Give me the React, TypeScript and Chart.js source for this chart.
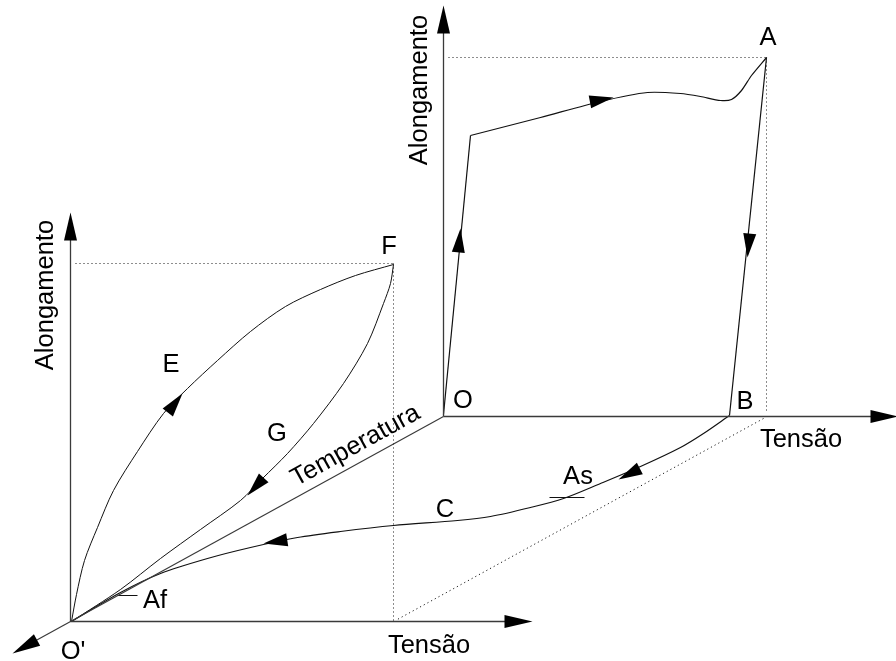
import React, { useEffect, useRef } from "react";
import { Chart, registerables } from "chart.js";

Chart.register(...registerables);

type P = { x: number; y: number };
const pt = (x: number, y: number): P => ({ x, y });

// ---- diagram space (x: 0..896 to the right, y: 0..661 downwards) ----
const X_RANGE = [-0.5, 895.5];
const Y_RANGE = [-0.5, 660.5];

// axes
const rightElongAxis: P[] = [pt(443, 416), pt(443, 12)];
const rightStressAxis: P[] = [pt(443, 416), pt(880, 416)];
const temperatureAxis: P[] = [pt(443, 416), pt(30, 643)];
const leftElongAxis: P[] = [pt(70, 621), pt(70, 225)];
const leftStressAxis: P[] = [pt(70, 621), pt(515, 621)];

// dotted projection lines
const dotTopA: P[] = [pt(448, 57), pt(766, 57)];
const dotDownA: P[] = [pt(766, 57), pt(766, 413)];
const dotDiagonal: P[] = [pt(763, 418), pt(395, 620)];
const dotTopF: P[] = [pt(75, 263), pt(393, 263)];
const dotDownF: P[] = [pt(393, 263), pt(393, 620)];

// loading path O -> A
const pathOrise: P[] = [pt(443, 414), pt(470, 135)];
const pathTopA: P[] = [
  pt(470, 135), pt(540, 117), pt(600, 101), pt(647, 92), pt(680, 93),
  pt(700, 96), pt(720, 100), pt(731, 99), pt(741, 90), pt(751, 75), pt(766, 57),
];
// unloading A -> B
const pathAB: P[] = [pt(766, 57), pt(729, 415)];
// heating B -> As -> C -> Af -> O'
const pathBC: P[] = [
  pt(729, 415), pt(703, 433), pt(680, 447), pt(640, 466), pt(600, 483),
  pt(563, 498), pt(530, 507), pt(490, 516), pt(457, 520), pt(393, 525),
  pt(340, 531), pt(297, 537), pt(250, 547), pt(207, 558), pt(160, 573),
  pt(120, 592), pt(71, 621),
];
// E: O' -> F
const pathE: P[] = [
  pt(71, 621), pt(76, 594), pt(84, 560), pt(97, 527), pt(113, 490),
  pt(137, 451), pt(163, 413), pt(187, 388), pt(217, 360), pt(250, 331),
  pt(285, 306), pt(320, 289), pt(355, 275), pt(393, 264),
];
// G: F -> O'
const pathG: P[] = [
  pt(393, 264), pt(390, 283), pt(383, 303), pt(367, 343), pt(343, 383),
  pt(313, 423), pt(287, 453), pt(262, 478), pt(240, 500), pt(200, 529),
  pt(160, 558), pt(120, 589), pt(71, 621),
];
// transformation start / finish markers
const tickAs: P[] = [pt(549, 497), pt(584, 497)];
const tickAf: P[] = [pt(117, 595), pt(137, 595)];

// arrow heads: tip and a point behind it on the same line
const axisArrowTips: P[] = [pt(443, 5), pt(898, 416), pt(12, 653), pt(70, 212), pt(532, 621)];
const axisArrowTails: P[] = [pt(443, 416), pt(443, 416), pt(443, 416), pt(70, 621), pt(70, 621)];
const curveArrowTips: P[] = [pt(460, 228), pt(613, 97), pt(747, 257), pt(618, 479), pt(263, 543), pt(182, 393), pt(247, 495)];
const curveArrowTails: P[] = [pt(443, 414), pt(560, 107), pt(766, 57), pt(680, 447), pt(320, 534), pt(137, 451), pt(313, 423)];

// labels
const labelTexts = ["A", "O", "B", "Tensão", "F", "E", "G", "C", "As", "Af", "O'", "Tensão", "Alongamento", "Alongamento", "Temperatura"];
const labelX = [767, 462, 744, 800, 388, 170, 276, 444, 577, 142, 72, 428, 426, 52, 358];
const labelY = [44, 407, 409, 447, 253, 372, 440, 516, 483, 607, 658, 652, 89, 294, 451];
const labelAngle = [0, 0, 0, 0, 0, 0, 0, 0, 0, 0, 0, 0, -90, -90, -28.9];
const labelAlign = ["center", "center", "center", "center", "center", "center", "center", "center", "center", "left", "center", "center", "center", "center", "center"];

const FONT = "25.5px 'Liberation Sans', Arial, sans-serif";
const AXIS_COLOR = "#3a3a3a";
const CURVE_COLOR = "#111111";
const DOT_COLOR = "#1a1a1a";

const line = (data: P[], color: string, width: number, tension = 0, dash: number[] = []) => ({
  data,
  showLine: true,
  borderColor: color,
  backgroundColor: color,
  borderWidth: width,
  borderDash: dash,
  borderCapStyle: "butt",
  pointRadius: 0,
  pointHoverRadius: 0,
  tension,
  fill: false,
  clip: false as any,
});

const arrowPlugin = {
  id: "arrowsAndLabels",
  afterDatasetsDraw(chart: any) {
    const ctx: CanvasRenderingContext2D = chart.ctx;
    const xs = chart.scales.x;
    const ys = chart.scales.y;
    const px = (p: P) => [xs.getPixelForValue(p.x), ys.getPixelForValue(p.y)];
    const drawArrow = (tip: P, tail: P, len: number, w: number) => {
      const [tx, ty] = px(tip);
      const [fx, fy] = px(tail);
      const dx = tx - fx;
      const dy = ty - fy;
      const d = Math.hypot(dx, dy) || 1;
      const ux = dx / d;
      const uy = dy / d;
      const bx = tx - ux * len;
      const by = ty - uy * len;
      ctx.beginPath();
      ctx.moveTo(tx, ty);
      ctx.lineTo(bx - uy * w / 2, by + ux * w / 2);
      ctx.lineTo(bx + uy * w / 2, by - ux * w / 2);
      ctx.closePath();
      ctx.fill();
    };
    ctx.save();
    ctx.fillStyle = "#000";
    axisArrowTips.forEach((t, i) => drawArrow(t, axisArrowTails[i], 28, 13));
    curveArrowTips.forEach((t, i) => drawArrow(t, curveArrowTails[i], 24, 13));

    ctx.font = FONT;
    ctx.textBaseline = "alphabetic";
    labelTexts.forEach((txt, i) => {
      const [x, y] = px(pt(labelX[i], labelY[i]));
      ctx.save();
      ctx.translate(Math.round(x), Math.round(y));
      ctx.rotate((labelAngle[i] * Math.PI) / 180);
      ctx.textAlign = labelAlign[i] as CanvasTextAlign;
      ctx.fillText(txt, 0, 0);
      ctx.restore();
    });
    ctx.restore();
  },
};

export default function App() {
  const ref = useRef<HTMLCanvasElement | null>(null);
  useEffect(() => {
    if (!ref.current) return;
    const chart = new Chart(ref.current, {
      type: "scatter",
      data: {
        datasets: [
          line(dotTopA, DOT_COLOR, 1, 0, [1, 3]),
          line(dotDownA, DOT_COLOR, 1, 0, [1, 3]),
          line(dotDiagonal, DOT_COLOR, 1, 0, [1.2, 3]),
          line(dotTopF, DOT_COLOR, 1, 0, [1, 3]),
          line(dotDownF, DOT_COLOR, 1, 0, [1, 3]),
          line(rightElongAxis, AXIS_COLOR, 1.3),
          line(rightStressAxis, AXIS_COLOR, 1.3),
          line(temperatureAxis, AXIS_COLOR, 1.2),
          line(leftElongAxis, AXIS_COLOR, 1.3),
          line(leftStressAxis, AXIS_COLOR, 1.3),
          line(pathOrise, CURVE_COLOR, 1.2),
          line(pathTopA, CURVE_COLOR, 1.2, 0.25),
          line(pathAB, CURVE_COLOR, 1.2),
          line(pathBC, CURVE_COLOR, 1.2, 0.3),
          line(pathE, CURVE_COLOR, 1, 0.3),
          line(pathG, CURVE_COLOR, 1, 0.3),
          line(tickAs, CURVE_COLOR, 1),
          line(tickAf, CURVE_COLOR, 1),
        ] as any,
      },
      options: {
        animation: false,
        responsive: false,
        maintainAspectRatio: false,
        events: [],
        layout: { padding: 0 },
        plugins: { legend: { display: false }, tooltip: { enabled: false } },
        scales: {
          x: { type: "linear", min: X_RANGE[0], max: X_RANGE[1], display: false },
          y: { type: "linear", min: Y_RANGE[0], max: Y_RANGE[1], reverse: true, display: false },
        },
      },
      plugins: [arrowPlugin],
    });
    return () => chart.destroy();
  }, []);

  return (
    <div style={{ position: "fixed", left: 0, top: 0, width: 896, height: 661, background: "#fff" }}>
      <canvas ref={ref} width={896} height={661} style={{ display: "block", width: 896, height: 661 }} />
    </div>
  );
}
